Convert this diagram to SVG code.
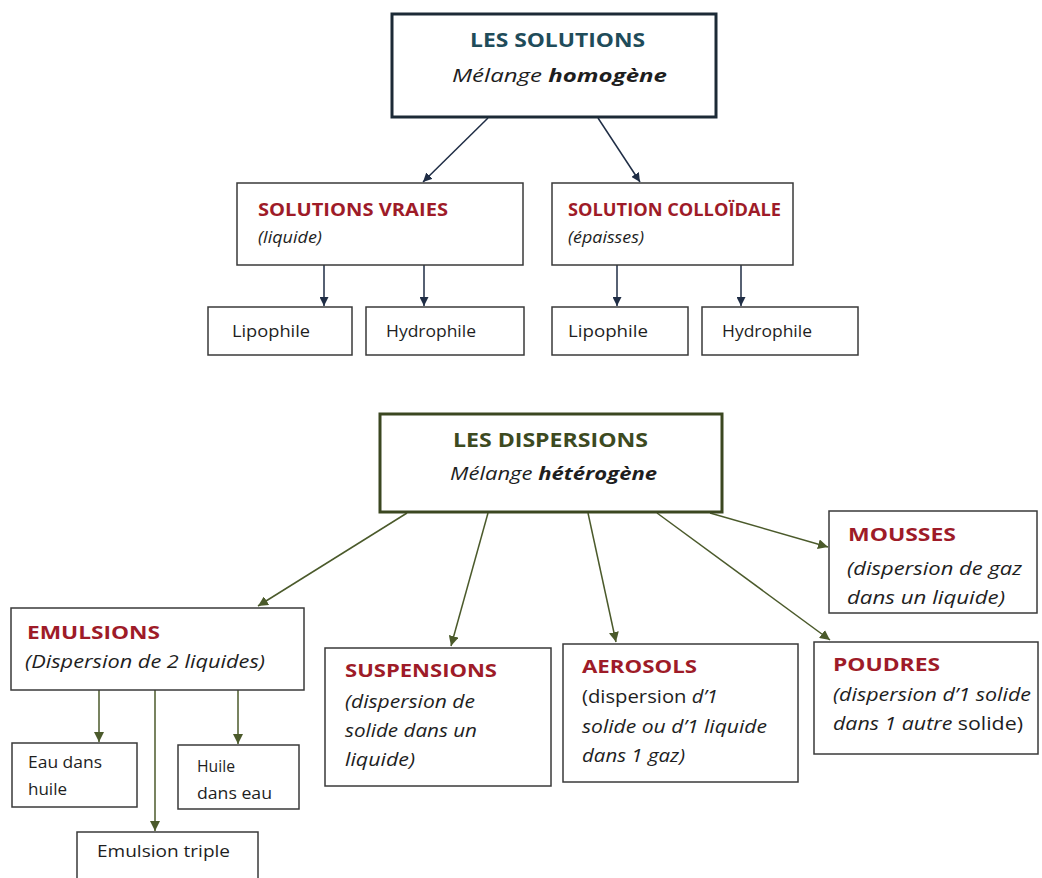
<svg xmlns="http://www.w3.org/2000/svg" width="1042" height="878" viewBox="0 0 1042 878">
<defs>
<style>
text{font-family:"Open Sans","Liberation Sans",sans-serif;fill:#1e1e1e;font-size:16px}
.box{fill:#fff;stroke:#3a3a3a;stroke-width:1.5}
.main1{fill:#fff;stroke:#1c2a36;stroke-width:3}
.main2{fill:#fff;stroke:#3b4720;stroke-width:3}
.t1{font-weight:bold;font-size:20px;fill:#1f4c5a}
.t2{font-weight:bold;font-size:20px;fill:#3d4a1f}
.red{font-weight:bold;font-size:18px;fill:#9e1b28}
.redS{font-weight:bold;font-size:17px;fill:#9e1b28}
.it{font-style:italic}
.b{font-weight:bold}
.sub{font-size:18px}
.subS{font-size:17px}
.sm{font-size:16px}
.c1{stroke:#1f2d45;stroke-width:1.5;fill:none;marker-end:url(#a1)}
.c2{stroke:#4b5a2b;stroke-width:1.5;fill:none;marker-end:url(#a2)}
</style>
<marker id="a1" viewBox="0 0 10 10" refX="10" refY="5" markerWidth="9" markerHeight="9" markerUnits="userSpaceOnUse" orient="auto"><path d="M0,0 L10,5 L0,10 z" fill="#1f2d45"/></marker>
<marker id="a2" viewBox="0 0 10 10" refX="10" refY="5" markerWidth="10" markerHeight="10" markerUnits="userSpaceOnUse" orient="auto"><path d="M0,0 L10,5 L0,10 z" fill="#4b5a2b"/></marker>
</defs>
<rect width="1042" height="878" fill="#fff"/>

<g id="connectors">
<line class="c1" x1="488" y1="118" x2="423" y2="182"/>
<line class="c1" x1="598" y1="118" x2="640" y2="182"/>
<line class="c1" x1="324" y1="265" x2="324" y2="306"/>
<line class="c1" x1="424" y1="265" x2="424" y2="306"/>
<line class="c1" x1="617" y1="265" x2="617" y2="306"/>
<line class="c1" x1="741" y1="265" x2="741" y2="306"/>
<line class="c2" x1="407" y1="513" x2="258" y2="606"/>
<line class="c2" x1="488" y1="513" x2="451" y2="646"/>
<line class="c2" x1="588" y1="513" x2="616" y2="642"/>
<line class="c2" x1="657" y1="513" x2="830" y2="640"/>
<line class="c2" x1="710" y1="513" x2="828" y2="547"/>
<line class="c2" x1="99" y1="690" x2="99" y2="742"/>
<line class="c2" x1="238" y1="690" x2="238" y2="744"/>
<line class="c2" x1="155" y1="690" x2="155" y2="831"/>
</g>

<g id="solutions">
<rect class="main1" x="392" y="14" width="324" height="103"/>
<text class="t1" x="470" y="47" textLength="175" lengthAdjust="spacingAndGlyphs">LES SOLUTIONS</text>
<text class="sub it" x="452" y="82" textLength="215" lengthAdjust="spacingAndGlyphs">Mélange <tspan class="b">homogène</tspan></text>
</g>
<g id="vraies">
<rect class="box" x="237" y="183" width="286" height="82"/>
<text class="redS" x="258" y="216" textLength="190" lengthAdjust="spacingAndGlyphs">SOLUTIONS VRAIES</text>
<text class="subS it" x="258" y="243" textLength="64" lengthAdjust="spacingAndGlyphs">(liquide)</text>
</g>
<g id="colloidale">
<rect class="box" x="552" y="183" width="241" height="82"/>
<text class="redS" x="568" y="216" textLength="213" lengthAdjust="spacingAndGlyphs">SOLUTION COLLOÏDALE</text>
<text class="subS it" x="568" y="243" textLength="76" lengthAdjust="spacingAndGlyphs">(épaisses)</text>
</g>
<g id="lipo1"><rect class="box" x="208" y="307" width="144" height="48"/><text class="sm" x="232" y="337" textLength="78" lengthAdjust="spacingAndGlyphs">Lipophile</text></g>
<g id="hydro1"><rect class="box" x="366" y="307" width="158" height="48"/><text class="sm" x="386" y="337" textLength="90" lengthAdjust="spacingAndGlyphs">Hydrophile</text></g>
<g id="lipo2"><rect class="box" x="552" y="307" width="136" height="48"/><text class="sm" x="568" y="337" textLength="80" lengthAdjust="spacingAndGlyphs">Lipophile</text></g>
<g id="hydro2"><rect class="box" x="702" y="307" width="156" height="48"/><text class="sm" x="722" y="337" textLength="90" lengthAdjust="spacingAndGlyphs">Hydrophile</text></g>

<g id="dispersions">
<rect class="main2" x="380" y="414" width="342" height="98"/>
<text class="t2" x="453" y="447" textLength="195" lengthAdjust="spacingAndGlyphs">LES DISPERSIONS</text>
<text class="sub it" x="450" y="480" textLength="207" lengthAdjust="spacingAndGlyphs">Mélange <tspan class="b">hétérogène</tspan></text>
</g>
<g id="emulsions">
<rect class="box" x="11" y="608" width="293" height="82"/>
<text class="red" x="27" y="639" textLength="133" lengthAdjust="spacingAndGlyphs">EMULSIONS</text>
<text class="sub it" x="25" y="668" textLength="240" lengthAdjust="spacingAndGlyphs">(Dispersion de 2 liquides)</text>
</g>
<g id="eau-huile">
<rect class="box" x="12" y="743" width="125" height="64"/>
<text class="sm" x="28" y="768" textLength="74" lengthAdjust="spacingAndGlyphs">Eau dans</text>
<text class="sm" x="28" y="795" textLength="39" lengthAdjust="spacingAndGlyphs">huile</text>
</g>
<g id="huile-eau">
<rect class="box" x="178" y="745" width="121" height="64"/>
<text class="sm" x="197" y="772" textLength="38" lengthAdjust="spacingAndGlyphs">Huile</text>
<text class="sm" x="197" y="799" textLength="75" lengthAdjust="spacingAndGlyphs">dans eau</text>
</g>
<g id="triple">
<rect class="box" x="77" y="832" width="181" height="60"/>
<text class="sm" x="97" y="857" textLength="133" lengthAdjust="spacingAndGlyphs">Emulsion triple</text>
</g>
<g id="suspensions">
<rect class="box" x="325" y="648" width="226" height="138"/>
<text class="red" x="345" y="677" textLength="152" lengthAdjust="spacingAndGlyphs">SUSPENSIONS</text>
<text class="sub it" x="345" y="708" textLength="130" lengthAdjust="spacingAndGlyphs">(dispersion de</text>
<text class="sub it" x="345" y="737" textLength="132" lengthAdjust="spacingAndGlyphs">solide dans un</text>
<text class="sub it" x="345" y="766" textLength="70" lengthAdjust="spacingAndGlyphs">liquide)</text>
</g>
<g id="aerosols">
<rect class="box" x="563" y="644" width="235" height="138"/>
<text class="red" x="582" y="673" textLength="115" lengthAdjust="spacingAndGlyphs">AEROSOLS</text>
<text class="sub" x="582" y="703" textLength="136" lengthAdjust="spacingAndGlyphs">(dispersion <tspan class="it">d’1</tspan></text>
<text class="sub it" x="582" y="733" textLength="185" lengthAdjust="spacingAndGlyphs">solide ou d’1 liquide</text>
<text class="sub it" x="582" y="762" textLength="103" lengthAdjust="spacingAndGlyphs">dans 1 gaz)</text>
</g>
<g id="mousses">
<rect class="box" x="829" y="511" width="208" height="102"/>
<text class="red" x="848" y="541" textLength="108" lengthAdjust="spacingAndGlyphs">MOUSSES</text>
<text class="sub it" x="847" y="575" textLength="175" lengthAdjust="spacingAndGlyphs">(dispersion de gaz</text>
<text class="sub it" x="847" y="604" textLength="158" lengthAdjust="spacingAndGlyphs">dans un  liquide)</text>
</g>
<g id="poudres">
<rect class="box" x="814" y="642" width="224" height="112"/>
<text class="red" x="833" y="671" textLength="107" lengthAdjust="spacingAndGlyphs">POUDRES</text>
<text class="sub it" x="833" y="701" textLength="198" lengthAdjust="spacingAndGlyphs">(dispersion d’1 solide</text>
<text class="sub" x="833" y="730" textLength="190" lengthAdjust="spacingAndGlyphs"><tspan class="it">dans 1 autre</tspan> solide)</text>
</g>
</svg>
